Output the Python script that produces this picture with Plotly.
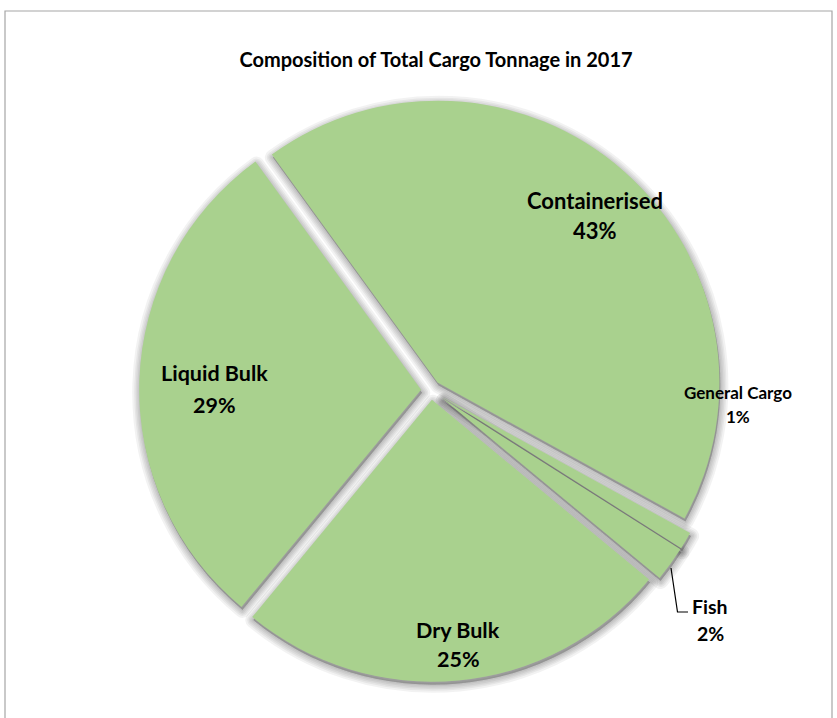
import plotly.graph_objects as go

# Cargo composition, share of total tonnage (%)
categories = ["Containerised", "General Cargo", "Fish", "Dry Bulk", "Liquid Bulk"]
shares = [43, 1, 2, 25, 29]
pulls = [0.035, 0.05, 0.05, 0.035, 0.035]

title_text = "Composition of Total Cargo Tonnage in 2017"

W, H = 837, 718
GREEN = "#A9D18E"
FONT = "Lato"


def fx(x):
    return x / W


def fy(y):
    return 1 - y / H


# pie box in pixels (centre and half size)
CX, CY, HALF = 431, 390, 296


def domain(dx=0.0, dy=0.0):
    return dict(
        x=[fx(CX - HALF + dx), fx(CX + HALF + dx)],
        y=[fy(CY + HALF + dy), fy(CY - HALF + dy)],
    )


fig = go.Figure()

# soft drop shadow: stacked translucent copies with widening outlines
for w in [16, 12, 9, 6, 3]:
    fig.add_trace(go.Pie(
        labels=categories, values=shares, pull=pulls,
        sort=False, direction="clockwise", rotation=-36,
        domain=domain(1, 3),
        marker=dict(colors=["rgba(0,0,0,0.05)"] * len(shares),
                    line=dict(color="rgba(0,0,0,0.05)", width=w)),
        textinfo="none", hoverinfo="skip", showlegend=False,
    ))

fig.add_trace(go.Pie(
    labels=categories, values=shares, pull=pulls,
    sort=False, direction="clockwise", rotation=-36,
    domain=domain(),
    marker=dict(colors=[GREEN] * len(shares), line=dict(width=0)),
    textinfo="none", showlegend=False,
))

# label placement (pixel centres of name line and percent line, font size)
label_pos = {
    "Containerised": (595, 200, 230, 22),
    "General Cargo": (738, 392, 416, 17),
    "Fish": (710, 606, 633, 19.5),
    "Dry Bulk": (458, 630, 659, 21.5),
    "Liquid Bulk": (214, 373, 405, 21.5),
}

annotations = []
for name, val in zip(categories, shares):
    x, y1, y2, size = label_pos[name]
    for txt, yy in ((name, y1), (f"{val}%", y2)):
        annotations.append(dict(
            x=fx(x), y=fy(yy), xref="paper", yref="paper",
            text=txt, showarrow=False, xanchor="center", yanchor="middle",
            font=dict(family=FONT, size=size, color="black", weight="bold"),
        ))

shapes = [
    # chart frame
    dict(type="path", xref="paper", yref="paper",
         path=f"M {fx(5)} {fy(718)} L {fx(5)} {fy(11)} L {fx(832)} {fy(11)} L {fx(832)} {fy(718)}",
         line=dict(color="#A6A6A6", width=1.2)),
    # leader line to the Fish label
    dict(type="path", xref="paper", yref="paper",
         path=f"M {fx(671)} {fy(568)} L {fx(677.5)} {fy(612)} L {fx(688)} {fy(612)}",
         line=dict(color="black", width=1.2)),
]

fig.update_layout(
    width=W, height=H,
    margin=dict(l=0, r=0, t=0, b=0),
    paper_bgcolor="white", plot_bgcolor="white",
    title=dict(text=title_text, x=fx(436), y=fy(60), xanchor="center", yanchor="middle",
               font=dict(family=FONT, size=20, color="black", weight="bold")),
    annotations=annotations,
    shapes=shapes,
    showlegend=False,
)

fig.write_html("out.html")
